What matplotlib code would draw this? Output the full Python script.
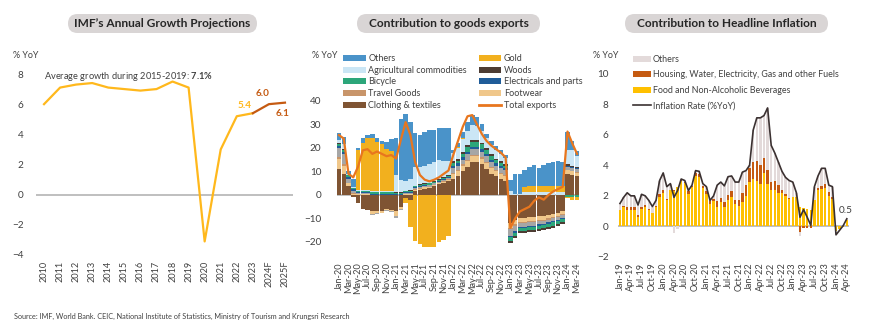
import matplotlib.pyplot as plt
import numpy as np
from matplotlib.patches import FancyBboxPatch, Patch
from matplotlib.lines import Line2D

plt.rcParams['font.family'] = ['Lato', 'DejaVu Sans']
plt.rcParams['mathtext.fontset'] = 'custom'
plt.rcParams['mathtext.rm'] = 'Lato'
plt.rcParams['mathtext.bf'] = 'Lato:bold'

W, H = 870, 335
TXT = '#404040'

# ---------------- data: IMF growth ----------------
years = ['2010', '2011', '2012', '2013', '2014', '2015', '2016', '2017',
         '2018', '2019', '2020', '2021', '2022', '2023', '2024F', '2025F']
gdp = [6.0, 7.1, 7.3, 7.4, 7.1, 7.0, 6.9, 7.0, 7.5, 7.1, -3.1, 3.0, 5.2, 5.4, 6.0, 6.1]

# ---------------- data: goods exports (Jan-20 .. Mar-24) ----------------
exp_months = ['Jan-20', 'Feb-20', 'Mar-20', 'Apr-20', 'May-20', 'Jun-20', 'Jul-20', 'Aug-20',
              'Sep-20', 'Oct-20', 'Nov-20', 'Dec-20', 'Jan-21', 'Feb-21', 'Mar-21', 'Apr-21',
              'May-21', 'Jun-21', 'Jul-21', 'Aug-21', 'Sep-21', 'Oct-21', 'Nov-21', 'Dec-21',
              'Jan-22', 'Feb-22', 'Mar-22', 'Apr-22', 'May-22', 'Jun-22', 'Jul-22', 'Aug-22',
              'Sep-22', 'Oct-22', 'Nov-22', 'Dec-22', 'Jan-23', 'Feb-23', 'Mar-23', 'Apr-23',
              'May-23', 'Jun-23', 'Jul-23', 'Aug-23', 'Sep-23', 'Oct-23', 'Nov-23', 'Dec-23',
              'Jan-24', 'Feb-24', 'Mar-24']
clothing = [11, 9, 4, -1, -3.5, -6, -6.5, -7, -7, -7, -6, -6.5,
            -7, -5, -1.5, -2, 1.7, 2.2, 2.7, 2.9, 3.7, 4.5, 5.2, 6.0,
            7, 8, 10, 12, 14, 14, 13, 11, 9, 8, 7, 6,
            -12, -10.5, -10, -10, -9.5, -9.5, -9, -9, -8.5, -8, -7.5, -7,
            9, 8.5, 8]
footwear = [4.5, 3.5, 1, .5, .3, .3, .3, -1, -.8, -.5, -.5, -.5,
            -2, -1, .3, .3, .5, .5, .5, .5, .5, .5, .5, .5,
            2, 2, 2.5, 2.5, 2.5, 2.5, 2.5, 2.5, 2.5, 2, 2, 2,
            -2, -2, -1.5, -1.5, -1.5, -1.5, -1.5, -1.5, -1.5, -1.5, -1.5, -1.2,
            1.5, 1.5, 1.5]
travel = [.5, .5, .3, .3, .2, .2, .2, .2, .2, .2, .2, .2,
          .2, .2, .2, .2, .2, .2, .2, .2, .2, .2, .2, .2,
          .5, .5, .5, .5, .5, .5, .5, .5, .5, .5, .5, .5,
          -.5, -.5, -.5, -.5, -.5, -.5, -.5, -.5, -.5, -.5, -.5, -.5,
          .3, .3, .3]
misc = [4, 4.5, 1.5, 1, .3, .3, .3, -.5, -.5, -.3, -.3, -.3,
        -1, -.5, .3, .4, .5, .5, .5, .5, .5, .5, .5, .5,
        2, 2, 2, 2.5, 2.5, 2.5, 2.5, 2.5, 2, 2, 2, 2,
        -3, -2.5, -1.5, -1.5, -1.5, -1.5, -1.5, -1.2, -1.2, -1.2, -1, -1,
        1.2, 1.2, 1.2]
electricals = [1, 1, 1, .6, .3, .3, .3, .3, .3, .3, .3, .3,
               .3, .3, .3, .3, .3, .3, .3, .3, .3, .3, .3, .3,
               1, 1, 1, 1, 1, 1, 1, 1, 1, 1, 1, 1,
               -.5, -.5, -.5, -.5, -.5, -.5, -.5, -.5, -.5, -.5, -.5, -.5,
               .5, .5, .5]
bicycle = [.5, .5, .5, .5, .6, .6, .6, .6, .6, .6, .6, .6,
           .5, .5, .5, .5, .5, .5, .5, .5, .5, .5, .5, .5,
           1, 1, 1.5, 2, 2, 2, 2, 1.5, 1.5, 1.2, 1, 1,
           -1.5, -1.5, -1.5, -1.5, -1.5, -1.5, -1.5, -1.5, -1.5, -1.5, -1.5, -1.3,
           -.8, -1, -1]
woods = [.5, .5, .3, .2, .2, .2, .2, .2, .2, .2, .2, .2,
         .3, .3, .3, .3, .3, .3, .3, .3, .3, .3, .3, .3,
         .8, .8, .8, .8, .8, .8, .8, .8, .8, .8, .8, .8,
         -1, -1, -.8, -.8, -.8, -.8, -.8, -.8, -.8, -.8, -.8, -.8,
         .5, .5, .5]
agri = [1.5, 2, .5, .5, .3, .3, .3, .3, .3, .3, .3, .5,
        7, 5, 4, 5, 8, 7.5, 7.5, 8, 8, 8, 7, 6,
        3.5, 4.5, 5.5, 6, 6.5, 6, 5, 4.5, 4, 3.5, 3, 2.5,
        1.5, .5, .5, 1.2, 1.2, 1.2, 1.2, 1.2, 1.2, 1.2, 1.2, 1.2,
        6, 6.5, 4.5]
gold = [0, 0, 0, 0, 17, 20, 22, 22.5, 21, 20, 18, 17,
        0, 0, -2, -11.5, -19.5, -21, -22, -22, -22, -20, -19, -17.5,
        0, .5, .5, 0, 0, 0, 0, 0, 0, 0, 0, 0,
        0, 0, 0, 2, 2.5, 2.5, 2.5, 2.5, 2.5, 2.5, 2.5, 2.5,
        -.5, -1, -1.2]
others_exp = [3, 3, 1, 3, 1, 2, 1.5, 1.8, 1.5, 1.5, 3, 5,
              16, 26, 28.5, 24, 14.5, 13.5, 14.5, 14.5, 13.7, 13.6, 14.1, 14.2,
              1.2, 1.7, 2.7, 3.7, 4.2, 3.7, 2.7, 1.7, 1.7, 2, 1.7, 1.2,
              5, 8.5, 8.5, 7.3, 8.3, 9.1, 7.6, 9.1, 9.8, 10.5, 10.9, 10.3,
              8, 4, 2.3]
total_exp = [25.5, 24, 9, 7.5, 12, 19, 19.5, 17.5, 18.5, 17.5, 16.5, 17,
             15.5, 23.5, 31, 25.5, 14, 8.5, 6.5, 5.8, 6.5, 7.5, 9, 10.4,
             17, 23, 29, 33.5, 34, 30, 26, 23, 21, 19.5, 18, 16,
             -14, -10, -7, -6, -5, -2.5, -1, -2, 0, 1.5, 2.5, 3.5,
             27, 22, 17.5]

# ---------------- data: headline inflation (Jan-19 .. Apr-24) ----------------
cpi_months = [f'{m}-{y}' for y in ['19', '20', '21', '22', '23', '24']
              for m in ['Jan', 'Feb', 'Mar', 'Apr', 'May', 'Jun', 'Jul', 'Aug', 'Sep', 'Oct', 'Nov', 'Dec']][:64]
inflation = [1.5, 1.9, 2.2, 2.0, 2.0, 1.4, 2.1, 2.0, 1.7, 1.3, 1.7, 3.0,
             3.5, 2.6, 2.8, 1.9, 2.35, 3.1, 3.0, 2.35, 2.7, 3.65, 3.6, 2.8,
             2.6, 1.7, 2.0, 2.7, 2.9, 2.65, 3.25, 3.3, 2.9, 2.9, 3.55, 3.65,
             4.0, 6.3, 7.1, 7.1, 7.25, 7.75, 5.3, 4.8, 4.2, 3.6, 3.2, 3.0,
             2.9, 2.2, 0.6, 1.1, 0.6, 0.07, 2.6, 3.3, 3.8, 3.8, 2.7, 2.6,
             -0.55, -0.25, 0.05, 0.5]
food = [1.1, 1.25, 1.05, 1.05, 1.05, 0.6, 1.15, 1.25, 1.05, 0.9, 1.25, 1.95,
        2.2, 1.7, 2.35, 2.3, 2.55, 3.0, 2.85, 2.1, 2.55, 3.3, 3.2, 2.5,
        2.1, 1.45, 1.65, 1.3, 1.6, 1.3, 1.75, 1.95, 1.45, 1.35, 1.6, 2.0,
        2.9, 3.1, 3.0, 2.8, 3.5, 2.8, 2.35, 2.35, 2.2, 2.2, 2.0, 1.8,
        1.9, 1.9, 1.25, 1.2, 1.15, 1.1, 1.7, 2.35, 2.45, 2.5, 2.0, 1.8,
        -0.3, -0.2, -0.05, 0.4]
housing = [0.0, 0.1, 0.2, 0.2, 0.2, 0.15, 0.15, 0.15, 0.1, 0.0, 0.1, 0.15,
           0.15, 0.1, 0.05, 0.05, 0.0, 0.05, 0.05, 0.2, 0.1, 0.2, 0.2, 0.15,
           0.2, 0.2, 0.15, 0.35, 0.25, 0.3, 0.3, 0.35, 0.3, 0.4, 0.6, 0.7,
           0.9, 1.1, 1.3, 1.2, 1.0, 0.9, 0.55, 0.65, 0.5, 0.15, 0.1, 0.05,
           0.05, 0.0, -0.35, -0.1, -0.1, -0.1, 0.05, 0.15, 0.2, 0.3, 0.25, 0.15,
           0.0, 0.0, 0.0, 0.0]
others_cpi = [0.4, 0.55, 0.95, 0.75, 0.75, 0.65, 0.8, 0.6, 0.55, 0.4, 0.35, 0.9,
              1.15, 0.8, 0.4, -0.45, -0.2, 0.05, 0.1, 0.05, 0.05, 0.15, 0.2, 0.15,
              0.3, 0.05, 0.2, 1.05, 1.05, 1.05, 1.2, 1.0, 1.15, 1.15, 1.35, 0.95,
              0.2, 2.1, 2.8, 3.1, 2.75, 4.05, 2.4, 1.8, 1.5, 1.25, 1.1, 1.15,
              0.95, 0.3, -0.3, 0.0, 0.0, 0.0, 0.85, 0.8, 1.15, 1.0, 0.45, 0.65,
              0.0, 0.0, 0.0, 0.1]


def fx(x):
    return x / W


def fy(y):
    return 1 - y / H


fig = plt.figure(figsize=(W / 100, H / 100), dpi=100)


def style_axis(ax, ticks, pad_y):
    for s in ax.spines.values():
        s.set_visible(False)
    ax.axhline(0, color='#BFBFBF', lw=1.4, zorder=0.5)
    ax.set_yticks(ticks)
    ax.tick_params(axis='both', length=0, colors=TXT)
    ax.tick_params(axis='y', labelsize=7.2, pad=pad_y)
    ax.tick_params(axis='x', labelsize=6.6, labelrotation=90, pad=4)


def title_box(cx, w, text):
    box = FancyBboxPatch(((cx - w / 2) / 100, (H - 33) / 100), w / 100, 0.19,
                         boxstyle='round,pad=0,rounding_size=0.095',
                         transform=fig.dpi_scale_trans, fc='#D9D5D5', ec='none')
    fig.patches.append(box)
    fig.text(fx(cx), fy(23.5), text, ha='center', va='center', fontsize=8.6,
             fontweight='bold', color='#262626')


# ---------------- panel 1 ----------------
ax1 = fig.add_axes([fx(36), fy(255), fx(257), 181 / H])
x1 = np.arange(len(years))
ax1.plot(x1[:14], gdp[:14], color='#FFB81C', lw=1.6, zorder=3)
ax1.plot(x1[13:], gdp[13:], color='#C55A11', lw=1.6, zorder=3)
ax1.set_xlim(-0.5, len(years) - 0.5)
ax1.set_ylim(-4, 8)
ax1.set_xticks(x1)
ax1.set_xticklabels(years)
style_axis(ax1, [-4, -2, 0, 2, 4, 6, 8], 9)
ax1.text(0, 7.85, r'Average growth during 2015-2019: $\mathbf{7.1\%}$', fontsize=6.7,
         color=TXT, va='center', ha='left')
ax1.annotate('5.4', (13, gdp[13]), xytext=(-6, 5.5), textcoords='offset points',
             ha='center', va='center', fontsize=7.2, fontweight='bold', color='#FFB81C')
ax1.annotate('6.0', (14, gdp[14]), xytext=(-4.5, 7.5), textcoords='offset points',
             ha='center', va='center', fontsize=7.2, fontweight='bold', color='#C55A11')
ax1.annotate('6.1', (15, gdp[15]), xytext=(-2, -7.5), textcoords='offset points',
             ha='center', va='center', fontsize=7.2, fontweight='bold', color='#C55A11')
fig.text(fx(13), fy(56), '% YoY', fontsize=6.4, color=TXT, va='center')
title_box(162.5, 189, 'IMF\u2019s Annual Growth Projections')

# ---------------- panel 2 ----------------
ax2 = fig.add_axes([fx(336.6), fy(257), fx(242.8), (257 - 77.5) / H])
x2 = np.arange(len(exp_months))
series = [
    (clothing, '#7F5433', 'Clothing & textiles'),
    (footwear, '#F0C78A', 'Footwear'),
    (travel, '#C8956A', 'Travel Goods'),
    (misc, '#A6A6A6', None),
    (electricals, '#1F5C99', 'Electricals and parts'),
    (bicycle, '#2CA67A', 'Bicycle'),
    (woods, '#4D3C33', 'Woods'),
    (agri, '#CBE6F5', 'Agricultural commodities'),
    (gold, '#F2B01E', 'Gold'),
    (others_exp, '#4A93C9', 'Others'),
]
pos = np.zeros(len(x2))
neg = np.zeros(len(x2))
colors = {}
for vals, col, lab in series:
    v = np.array(vals, dtype=float)
    p = np.where(v > 0, v, 0)
    q = np.where(v < 0, v, 0)
    ax2.bar(x2, p, bottom=pos, width=0.94, color=col, lw=0, zorder=2)
    ax2.bar(x2, q, bottom=neg, width=0.94, color=col, lw=0, zorder=2)
    pos += p
    neg += q
    if lab:
        colors[lab] = col
ax2.plot(x2, total_exp, color='#E8761E', lw=1.6, zorder=4)
ax2.set_xlim(-0.5, len(x2) - 0.5)
ax2.set_ylim(-26.4, 50)
ax2.set_xticks(x2[::2])
ax2.set_xticklabels(exp_months[::2])
style_axis(ax2, [-20, -10, 0, 10, 20, 30, 40], 11)
fig.text(fx(312), fy(56), '% YoY', fontsize=6.4, color=TXT, va='center')
title_box(448.5, 183, 'Contribution to goods exports')

order = ['Others', 'Agricultural commodities', 'Bicycle', 'Travel Goods', 'Clothing & textiles',
         'Gold', 'Woods', 'Electricals and parts', 'Footwear']
handles = [Patch(facecolor=colors[k], label=k) for k in order]
handles.append(Line2D([], [], color='#E8761E', lw=2, label='Total exports'))
fig.legend(handles=handles, loc='upper left', bbox_to_anchor=(fx(343), fy(54)), ncol=2,
           frameon=False, fontsize=6.5, handlelength=2.5, handleheight=0.65,
           handletextpad=0.3, labelspacing=0.3, columnspacing=1.3,
           borderpad=0, borderaxespad=0, labelcolor=TXT)

# ---------------- panel 3 ----------------
ax3 = fig.add_axes([fx(618.2), fy(257), fx(230.4), 183.5 / H])
x3 = np.arange(len(cpi_months))
pos = np.zeros(len(x3))
neg = np.zeros(len(x3))
for vals, col in [(food, '#FFC000'), (housing, '#C55A11'), (others_cpi, '#E3DADA')]:
    v = np.array(vals, dtype=float)
    p = np.where(v > 0, v, 0)
    q = np.where(v < 0, v, 0)
    ax3.bar(x3, p, bottom=pos, width=0.72, color=col, lw=0, zorder=2)
    ax3.bar(x3, q, bottom=neg, width=0.72, color=col, lw=0, zorder=2)
    pos += p
    neg += q
ax3.plot(x3, inflation, color='#3B3131', lw=1.2, zorder=4)
ax3.annotate('0.5', (x3[-1], inflation[-1]), xytext=(-1, 6), textcoords='offset points',
             ha='center', va='center', fontsize=7.2, color=TXT)
ax3.set_xlim(-0.5, len(x3) - 0.5)
ax3.set_ylim(-2, 10)
ax3.set_xticks(x3[::3])
ax3.set_xticklabels(cpi_months[::3])
style_axis(ax3, [-2, 0, 2, 4, 6, 8, 10], 7)
fig.text(fx(593), fy(55), '% YoY', fontsize=6.4, color=TXT, va='center')
title_box(726.5, 203, 'Contribution to Headline Inflation')

h3 = [Patch(facecolor='#E3DADA', label='Others'),
      Patch(facecolor='#C55A11', label='Housing, Water, Electricity, Gas and other Fuels'),
      Patch(facecolor='#FFC000', label='Food and Non-Alcoholic Beverages'),
      Line2D([], [], color='#3B3131', lw=1.2, label='Inflation Rate (%YoY)')]
fig.legend(handles=h3, loc='upper left', bbox_to_anchor=(fx(633), fy(55)), ncol=1,
           frameon=False, fontsize=6.4, handlelength=2.0, handleheight=0.65,
           handletextpad=0.2, labelspacing=0.72, borderpad=0, borderaxespad=0,
           labelcolor=TXT)

fig.text(fx(14), fy(316), 'Source: IMF, World Bank. CEIC, National Institute of Statistics, '
         'Ministry of Tourism and Krungsri Research', fontsize=5.2, color=TXT, va='center')

fig.savefig('out.png', dpi=100)
